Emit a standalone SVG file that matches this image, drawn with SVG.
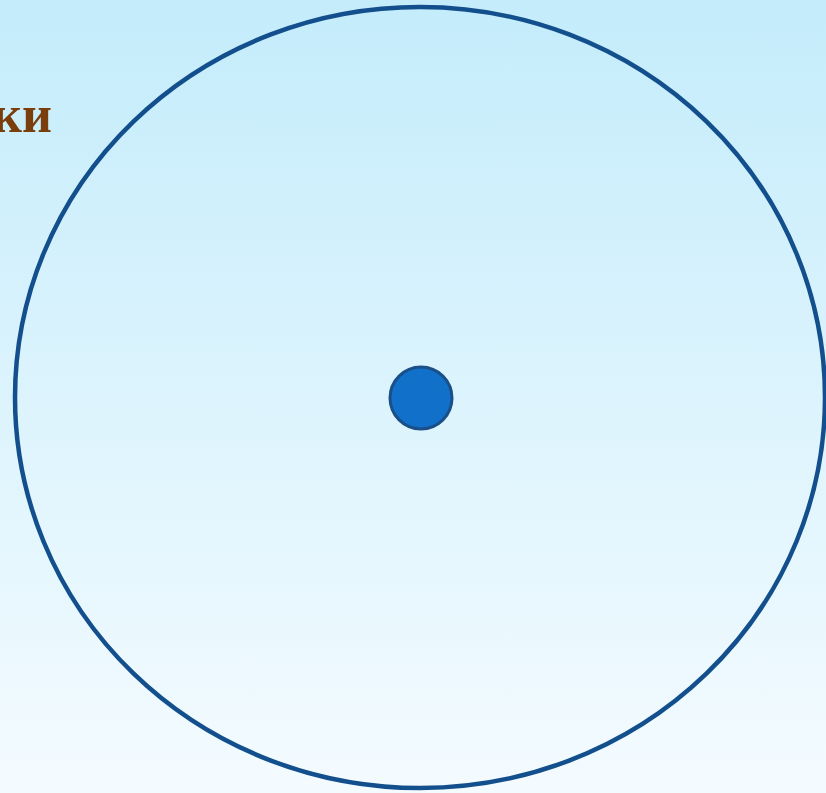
<svg xmlns="http://www.w3.org/2000/svg" width="826" height="793" viewBox="0 0 826 793">
<defs>
<linearGradient id="bg" x1="0" y1="0" x2="0" y2="1">
<stop offset="0" stop-color="#C4ECFB"/>
<stop offset="1" stop-color="#F4FBFF"/>
</linearGradient>
<style>
.lbl{font-family:"Liberation Serif","Times New Roman",serif;font-weight:bold;fill:#7A3E0C;}
</style>
</defs>
<rect width="826" height="793" fill="url(#bg)"/>
<g id="outer-circle">
<ellipse cx="420" cy="397.5" rx="405" ry="390.5" fill="none" stroke="#124F8C" stroke-width="4.5"/>
</g>
<g id="center-point">
<circle cx="421" cy="398" r="31" fill="#1170C9" stroke="#1A4F87" stroke-width="3"/>
</g>
<g id="connectors"></g>
<text class="lbl" x="52" y="132" font-size="52" text-anchor="end">ки</text>
</svg>
